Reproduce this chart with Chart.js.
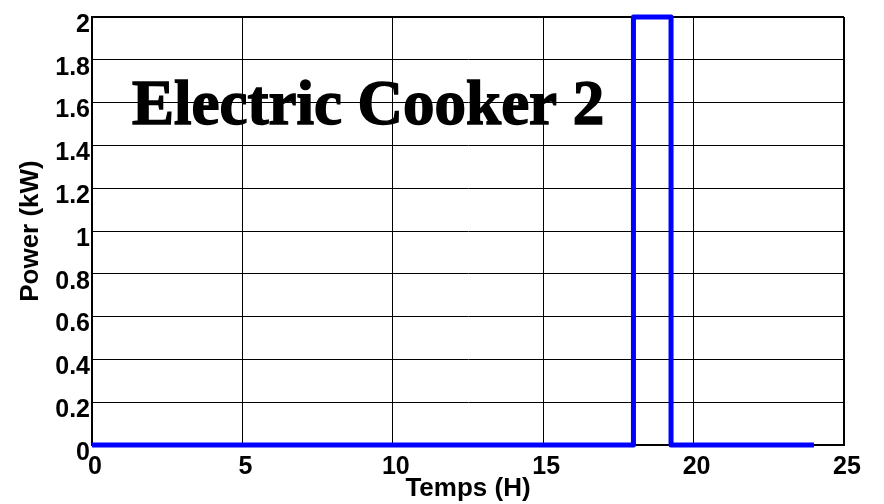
<!DOCTYPE html>
<html>
<head>
<meta charset="utf-8">
<script src="https://cdn.jsdelivr.net/npm/chart.js@4.4.1/dist/chart.umd.min.js"></script>
<style>
	html, body { margin: 0; padding: 0; background: #fff; }
	#wrap { width: 884px; height: 504px; }
</style>
</head>
<body>
<div id="wrap"><canvas id="canvasCooker" width="884" height="504"></canvas></div>
<script>
"use strict"

// corners of the load profile
var timeHours = [0, 18, 18, 19.25, 19.25, 24]
var powerKw = [0, 0, 2, 2, 0, 0]

var xTickLabels = ['0', '5', '10', '15', '20', '25']
var yTickLabels = ['0', '0.2', '0.4', '0.6', '0.8', '1', '1.2', '1.4', '1.6', '1.8', '2']

var points = []
timeHours.forEach(function (t, i) {
	points.push({ x: t, y: powerKw[i] })
})

// title written inside the axes, like the matlab text() call
var insideTitle = {
	id: 'insideTitle',
	beforeDatasetsDraw: function (chart) {
		const ctx = chart.ctx
		ctx.save()
		ctx.font = 'bold 63px "Liberation Serif", "Times New Roman", serif'
		ctx.fillStyle = '#000'
		ctx.strokeStyle = '#000'
		ctx.lineWidth = 1.5
		ctx.textAlign = 'left'
		ctx.textBaseline = 'alphabetic'
		ctx.fillText('Electric Cooker 2', 132, 124)
		ctx.strokeText('Electric Cooker 2', 132, 124)
		ctx.restore()
	}
}

const tickFont = { family: '"Liberation Sans", Arial, sans-serif', size: 25, weight: 'bold' }
const titleFont = { family: '"Liberation Sans", Arial, sans-serif', size: 26, weight: 'bold' }

const context = document.getElementById('canvasCooker').getContext('2d')
const myChart = new Chart(context, {
	type: 'line',
	data: {
		datasets: [{
			data: points,
			borderColor: '#0000ff',
			borderWidth: 5,
			pointRadius: 0,
			tension: 0,
			borderJoinStyle: 'round',
			clip: false
		}]
	},
	plugins: [insideTitle],
	options: {
		responsive: false,
		animation: false,
		layout: { padding: { left: 0, right: 40, top: 16, bottom: 0 } },
		plugins: {
			legend: { display: false },
			tooltip: { enabled: false }
		},
		scales: {
			x: {
				type: 'linear',
				min: 0,
				max: 25,
				afterFit: function (scale) { scale.height = 59 },
				ticks: {
					stepSize: 5,
					color: '#000',
					font: tickFont,
					padding: 7,
					labelOffset: 3,
					maxRotation: 0,
					callback: function (value) { return xTickLabels[Math.round(value / 5)] }
				},
				grid: {
					color: '#000',
					lineWidth: function (c) { return c.tick && c.tick.value === 25 ? 2 : 1 },
					drawTicks: false
				},
				border: { display: true, color: '#000', width: 2 },
				title: {
					display: true,
					text: 'Temps (H)',
					color: '#000',
					font: titleFont,
					padding: { top: 0, bottom: 0 }
				}
			},
			y: {
				min: 0,
				max: 2,
				afterFit: function (scale) { scale.width = 92 },
				ticks: {
					stepSize: 0.2,
					color: '#000',
					font: tickFont,
					padding: 2,
					labelOffset: 8,
					callback: function (value) { return yTickLabels[Math.round(value / 0.2)] }
				},
				grid: {
					color: '#000',
					lineWidth: function (c) { return c.tick && c.tick.value === 2 ? 2 : 1 },
					drawTicks: false
				},
				border: { display: true, color: '#000', width: 2 },
				title: {
					display: true,
					text: 'Power (kW)',
					color: '#000',
					font: titleFont,
					padding: { top: 15, bottom: 0 }
				}
			}
		}
	}
})
</script>
</body>
</html>
